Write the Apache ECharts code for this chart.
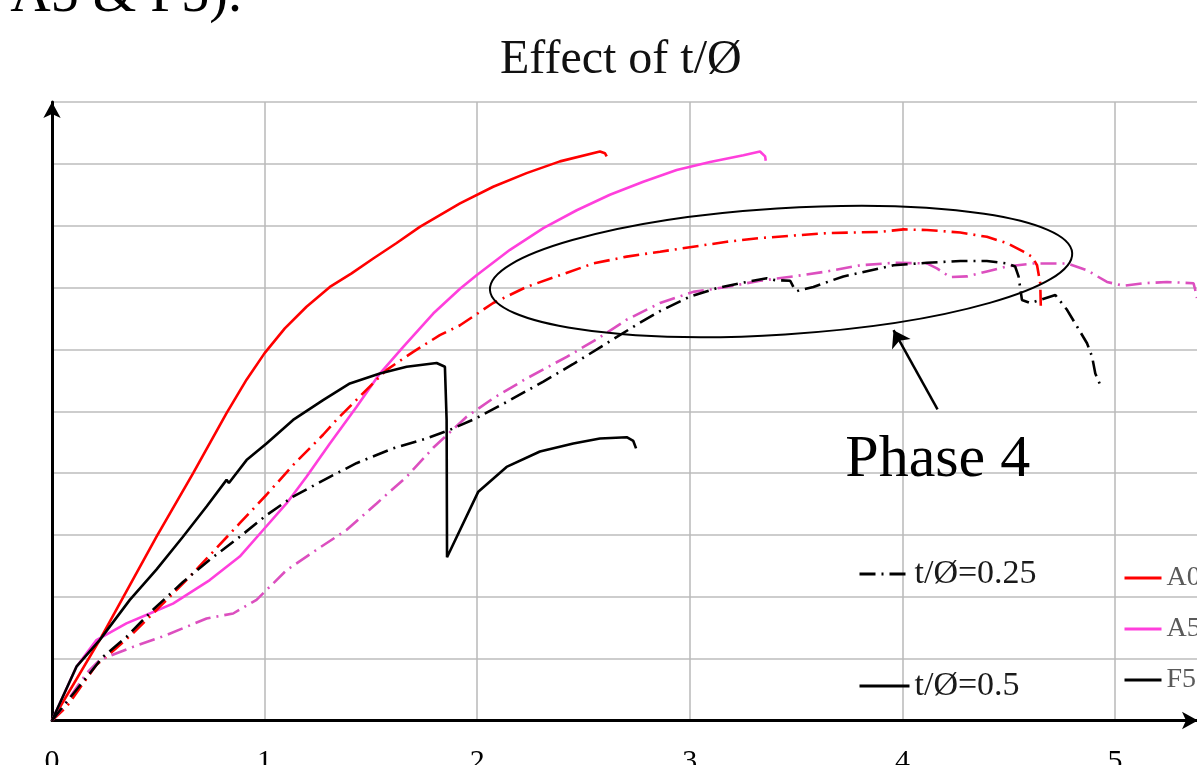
<!DOCTYPE html>
<html>
<head>
<meta charset="utf-8">
<title>Effect of t/Ø</title>
<script src="https://cdn.jsdelivr.net/npm/echarts@6/dist/echarts.min.js"></script>
<style>
  html, body { margin: 0; padding: 0; background: #fff; }
  #chart { width: 1197px; height: 765px; }
</style>
</head>
<body>
<div id="chart"></div>
<script>
// x tick labels (y labels are cropped away in the source picture)
const xTicks = [0, 1, 2, 3, 4, 5];

// curves, [x, y] with one y unit per grid row
const a0Solid = [[0,0],[0.224,1.30],[0.491,2.97],[0.664,4.00],[0.821,4.97],[0.915,5.51],[1.0,5.94],[1.095,6.34],[1.197,6.69],[1.307,7.01],[1.409,7.23],[1.511,7.47],[1.621,7.72],[1.730,7.98],[1.919,8.36],[2.075,8.63],[2.232,8.85],[2.389,9.04],[2.577,9.20],[2.601,9.17],[2.609,9.12]];
const a0Dash = [[0,0],[0.068,0.22],[0.209,0.90],[0.256,1.03],[0.381,1.41],[0.507,1.84],[0.632,2.27],[0.758,2.73],[0.883,3.19],[1.009,3.65],[1.134,4.13],[1.275,4.62],[1.338,4.86],[1.448,5.24],[1.574,5.67],[1.699,5.96],[1.824,6.23],[1.919,6.39],[2.075,6.75],[2.232,7.01],[2.389,7.20],[2.546,7.39],[2.703,7.50],[2.860,7.58],[3.016,7.66],[3.174,7.74],[3.330,7.80],[3.644,7.88],[3.895,7.90],[4.005,7.94],[4.115,7.93],[4.272,7.89],[4.397,7.82],[4.491,7.72],[4.569,7.58],[4.609,7.50],[4.633,7.36],[4.648,7.07],[4.651,6.64]];
const a5Solid = [[0,0],[0.115,0.87],[0.209,1.30],[0.350,1.57],[0.460,1.73],[0.569,1.89],[0.742,2.27],[0.883,2.65],[0.993,3.08],[1.103,3.51],[1.197,3.94],[1.307,4.48],[1.432,5.07],[1.542,5.61],[1.652,6.04],[1.793,6.58],[1.919,6.98],[1.997,7.20],[2.154,7.61],[2.311,7.96],[2.468,8.25],[2.624,8.50],[2.781,8.71],[2.938,8.90],[3.095,9.03],[3.252,9.14],[3.330,9.20],[3.354,9.12],[3.357,9.05]];
const a5Dash = [[0,0],[0.052,0.22],[0.162,0.76],[0.224,0.98],[0.381,1.19],[0.538,1.38],[0.727,1.65],[0.852,1.73],[0.962,1.95],[1.103,2.43],[1.244,2.76],[1.385,3.08],[1.527,3.51],[1.668,3.94],[1.793,4.41],[1.950,4.91],[2.075,5.21],[2.232,5.53],[2.421,5.88],[2.560,6.16],[2.703,6.48],[2.860,6.75],[3.016,6.93],[3.174,7.01],[3.330,7.11],[3.487,7.18],[3.644,7.26],[3.801,7.36],[3.958,7.40],[4.115,7.39],[4.162,7.31],[4.224,7.17],[4.303,7.18],[4.397,7.26],[4.491,7.34],[4.616,7.39],[4.774,7.39],[4.868,7.28],[4.962,7.09],[5.040,7.03],[5.134,7.07],[5.244,7.09],[5.369,7.07],[5.377,6.96],[5.385,6.83]];
const f5Solid = [[0,0],[0.115,0.87],[0.224,1.30],[0.366,1.95],[0.491,2.44],[0.616,2.97],[0.727,3.46],[0.821,3.89],[0.832,3.84],[0.915,4.21],[1.009,4.48],[1.134,4.86],[1.275,5.18],[1.401,5.45],[1.542,5.61],[1.668,5.72],[1.809,5.78],[1.848,5.72],[1.856,4.86],[1.858,2.64],[2.005,3.70],[2.138,4.10],[2.295,4.35],[2.452,4.48],[2.577,4.56],[2.703,4.58],[2.734,4.52],[2.747,4.40]];
const f5Dash = [[0,0],[0.083,0.36],[0.177,0.76],[0.240,1.03],[0.350,1.35],[0.475,1.79],[0.616,2.24],[0.742,2.60],[0.883,2.97],[1.009,3.32],[1.134,3.62],[1.307,3.94],[1.432,4.16],[1.605,4.40],[1.762,4.56],[1.872,4.70],[1.997,4.89],[2.154,5.18],[2.311,5.48],[2.450,5.76],[2.600,6.08],[2.750,6.40],[2.860,6.62],[2.998,6.85],[3.127,6.99],[3.252,7.08],[3.362,7.15],[3.401,7.12],[3.472,7.11],[3.487,7.01],[3.503,6.94],[3.518,6.96],[3.581,7.01],[3.722,7.18],[3.895,7.31],[3.958,7.36],[4.115,7.40],[4.272,7.43],[4.397,7.43],[4.491,7.39],[4.530,7.34],[4.546,7.18],[4.562,6.80],[4.601,6.75],[4.648,6.80],[4.719,6.88],[4.774,6.64],[4.821,6.37],[4.868,6.10],[4.892,5.88],[4.907,5.61],[4.931,5.42]];

// "Phase 4" annotation, in data units
const phase = { cx: 3.429, cy: 7.26, rx: 1.372, ry: 1.02, tilt: 3.64 };
const phaseArrow = [[4.165, 5.03], [3.958, 6.31]];
const phaseLabel = [4.166, 4.2];

const serif = '"Liberation Serif", "Times New Roman", serif';
const dashDot = [16, 6, 2, 6];
const RED = '#ff0000', PINK = '#ff3fdc', PINK_DASH = '#dc4fbf', BLACK = '#000';

function curve(name, data, color, dashed) {
  return {
    name: name,
    type: 'line',
    data: data,
    symbol: 'none',
    silent: true,
    lineStyle: { color: color, width: 2.6, type: dashed ? dashDot : 'solid' },
    itemStyle: { color: color }
  };
}
// legend-only entries
function key(name, color, dashed) {
  return {
    name: name, type: 'line', data: [], symbol: 'none',
    lineStyle: { color: color, width: 3, type: dashed ? dashDot : 'solid' },
    itemStyle: { color: color }
  };
}

const f5DashSeries = curve('F5 t/Ø=0.25', f5Dash, BLACK, true);
f5DashSeries.markLine = {
  silent: true,
  symbol: ['none', 'arrow'],
  symbolSize: 16,
  label: { show: false },
  lineStyle: { color: BLACK, width: 2.5, type: 'solid' },
  data: [[{ coord: phaseArrow[0] }, { coord: phaseArrow[1] }]]
};

const legendText = { fontFamily: serif, fontSize: 34, lineHeight: 34, color: '#1a1a1a' };
const legendBase = {
  padding: 0, itemHeight: 14, selectedMode: false,
  itemStyle: { opacity: 0 }, lineStyle: { width: 3 }
};

const option = {
  animation: false,
  backgroundColor: '#fff',
  title: {
    text: 'Effect of t/Ø',
    left: 500,
    top: 36,
    padding: 0,
    textStyle: { fontFamily: serif, fontSize: 48, fontWeight: 'normal', color: '#111' }
  },
  grid: { left: 52, top: 102, width: 1146, height: 618.5, outerBoundsMode: 'none', containLabel: false },
  xAxis: {
    type: 'value',
    min: 0,
    max: 5.39,
    interval: 1,
    axisLine: {
      onZero: false,
      symbol: ['none', 'arrow'],
      symbolSize: [13, 16],
      lineStyle: { color: BLACK, width: 3 }
    },
    axisTick: { show: false },
    axisLabel: {
      fontFamily: serif, fontSize: 30, color: '#000', margin: 27,
      showMaxLabel: false,
      formatter: function (v) { return xTicks.indexOf(v) >= 0 ? String(v) : ''; }
    },
    splitLine: { lineStyle: { color: '#b8b8b8', width: 1.5 } }
  },
  yAxis: {
    type: 'value',
    min: 0,
    max: 10,
    interval: 1,
    axisLine: {
      show: true,
      onZero: false,
      symbol: ['none', 'arrow'],
      symbolSize: [13, 16],
      lineStyle: { color: BLACK, width: 3 }
    },
    axisTick: { show: false },
    axisLabel: { show: false },
    splitLine: { lineStyle: { color: '#bdbdbd', width: 1.5 } }
  },
  legend: [
    Object.assign({ data: ['t/Ø=0.25'], left: 858, top: 557, itemWidth: 50, textStyle: legendText }, legendBase),
    Object.assign({ data: ['t/Ø=0.5'], left: 858, top: 669, itemWidth: 50, textStyle: legendText }, legendBase),
    Object.assign({ data: ['A0', 'A5', 'F5'], orient: 'vertical', left: 1123, top: 564,
      itemWidth: 37, itemGap: 23,
      textStyle: { fontFamily: serif, fontSize: 28, lineHeight: 28, color: '#5a5a5a' } }, legendBase)
  ],
  series: [
    curve('A0 t/Ø=0.5', a0Solid, RED, false),
    curve('A5 t/Ø=0.5', a5Solid, PINK, false),
    curve('A0 t/Ø=0.25', a0Dash, RED, true),
    curve('A5 t/Ø=0.25', a5Dash, PINK_DASH, true),
    f5DashSeries,
    curve('F5 t/Ø=0.5', f5Solid, BLACK, false),
    key('t/Ø=0.25', BLACK, true),
    key('t/Ø=0.5', BLACK, false),
    key('A0', RED, false),
    key('A5', PINK, false),
    key('F5', BLACK, false)
  ]
};

const chart = echarts.init(document.getElementById('chart'), null, { renderer: 'canvas' });
chart.setOption(option);

// ellipse and label placed from data coordinates
const c = chart.convertToPixel({ gridIndex: 0 }, [phase.cx, phase.cy]);
const e = chart.convertToPixel({ gridIndex: 0 }, [phase.cx + phase.rx, phase.cy + phase.ry]);
const t = chart.convertToPixel({ gridIndex: 0 }, phaseLabel);
chart.setOption({
  graphic: [
    {
      type: 'ellipse', x: c[0], y: c[1], rotation: phase.tilt * Math.PI / 180,
      shape: { cx: 0, cy: 0, rx: e[0] - c[0], ry: c[1] - e[1] },
      style: { fill: 'none', stroke: '#000', lineWidth: 2 },
      silent: true, z: 10
    },
    {
      type: 'text', x: t[0], y: t[1], silent: true, z: 10,
      style: { text: 'Phase 4', font: '60px ' + serif, fill: '#000',
               align: 'center', verticalAlign: 'middle' }
    },
    {
      type: 'text', x: 242, y: 24, silent: true,
      style: { text: '(A0, A5 & F5).', font: '56px ' + serif, fill: '#000',
               align: 'right', verticalAlign: 'bottom' }
    }
  ]
});
</script>
</body>
</html>
